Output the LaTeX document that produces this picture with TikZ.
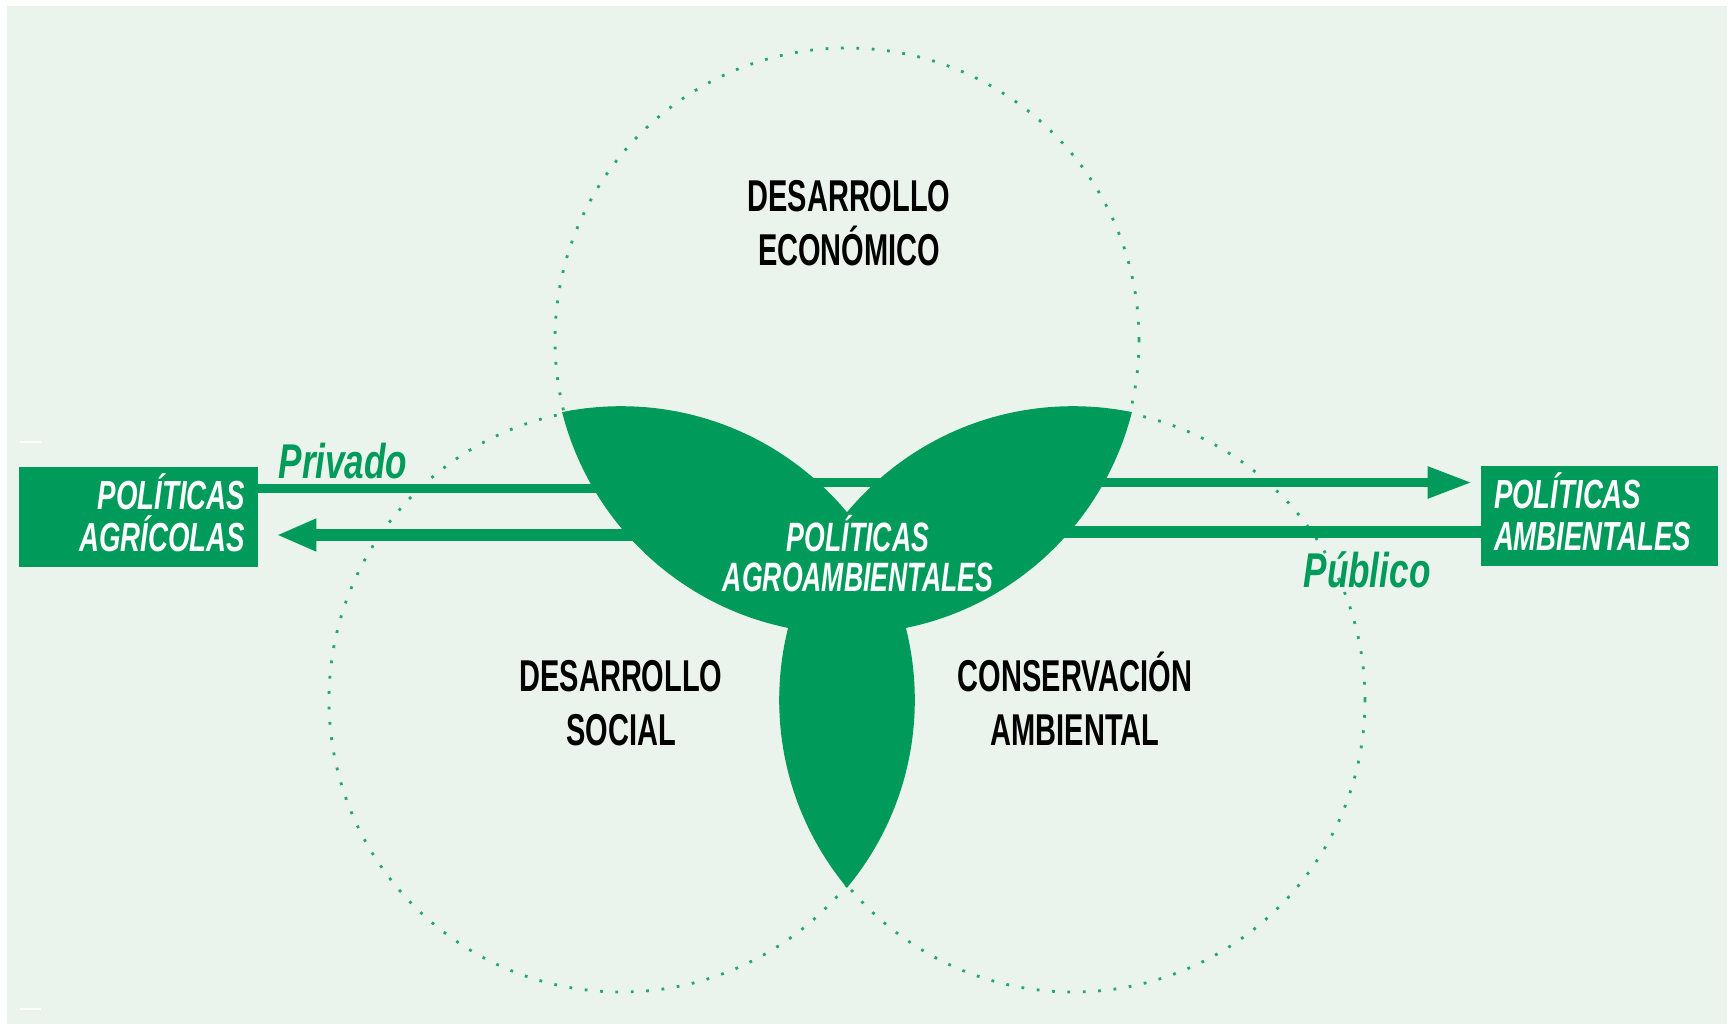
\documentclass[tikz,border=0pt]{standalone}
\usepackage{fontspec}
\setmainfont{Liberation Sans}
\newfontfamily\labfont[FakeStretch=0.65]{Liberation Sans}
\newfontfamily\boxfont[FakeStretch=0.68]{Liberation Sans}
\newfontfamily\sidefont[FakeStretch=0.72]{Liberation Sans}
\usetikzlibrary{arrows.meta}
\definecolor{agreen}{HTML}{009B5A}
\definecolor{bgc}{HTML}{EAF4EC}
\begin{document}
\begin{tikzpicture}[x=0.5pt,y=-0.5pt,
  ring/.style={draw=agreen!85!bgc, line width=1.4pt, dash pattern=on 1.4pt off 6.3pt},
  petal/.style={fill=agreen},
  zone/.style={font=\labfont\bfseries\fontsize{22.3pt}{27pt}\selectfont, align=center, inner sep=0pt, text=black},
  core/.style={font=\labfont\bfseries\itshape\fontsize{20.5pt}{20pt}\selectfont, align=center, inner sep=0pt, text=white},
  polbox/.style={fill=agreen, text=white, font=\boxfont\bfseries\itshape\fontsize{20.3pt}{21pt}\selectfont, minimum height=50pt, inner xsep=6.5pt, inner ysep=0pt},
  flowlabel/.style={font=\sidefont\bfseries\itshape\fontsize{24.4pt}{28pt}\selectfont, text=agreen, inner sep=0pt, anchor=base},
  flowA/.style={draw=agreen, line width=4.25pt},
  flowB/.style={draw=agreen, line width=5.75pt},
  cropmark/.style={draw=white, line width=1.2pt}
]
\useasboundingbox (0,0) rectangle (1733,1029);
\fill[white] (0,0) rectangle (1733,1029);
\fill[bgc] (7,6) rectangle (1727,1024);
\draw[cropmark] (20,442) -- (41,442);
\draw[cropmark] (20,1009) -- (41,1009);

% dotted circles
\draw[ring] (847,340) circle[radius=146pt];
\draw[ring] (621,700) circle[radius=146pt];
\draw[ring] (1073,700) circle[radius=146pt];

% leaf = region covered by at least two circles (slightly enlarged to hide the dots)
\begin{scope}
  \clip (847,340) circle[radius=146.9pt];
  \fill[petal] (621,700) circle[radius=146.9pt];
  \fill[petal] (1073,700) circle[radius=146.9pt];
\end{scope}
\begin{scope}
  \clip (621,700) circle[radius=146.9pt];
  \fill[petal] (1073,700) circle[radius=146.9pt];
\end{scope}

% boxes
\node[polbox, text width=106.5pt, align=right] (agr) at (138.5,517) {POL\smash{Í}TICAS\\AGR\smash{Í}COLAS};
\node[polbox, text width=105.5pt, align=left] (amb) at (1599.5,516) {POL\smash{Í}TICAS\\AMBIENTALES};

% connectors
\coordinate (j1) at (700,488.5);
\coordinate (j2) at (700,482.5);
\coordinate (j3) at (1000,532);
\coordinate (j4) at (1000,535);
\draw[flowA, -{Triangle[length=22pt,width=15pt]}, shorten >=4.5pt]
  (agr.east |- j1) -- (j1) -- (j2) -- (amb.west |- j2);
\draw[flowB, -{Triangle[length=20pt,width=15pt]}, shorten >=9pt]
  (amb.west |- j3) -- (j3) -- (j4) -- (agr.east |- j4);

% labels
\node[flowlabel] (priv) at (343,478) {Privado};
\node[flowlabel] (pub) at (1367,587) {Público};
\node[zone] (eco) at (849,223) {DESARROLLO\\ECON\smash{Ó}MICO};
\node[zone] (soc) at (621,703) {DESARROLLO\\SOCIAL};
\node[zone] (con) at (1075,703) {CONSERVACI\smash{Ó}N\\AMBIENTAL};
\node[core] (agro) at (858,557.5) {POL\smash{Í}TICAS\\AGROAMBIENTALES};
\end{tikzpicture}
\end{document}
